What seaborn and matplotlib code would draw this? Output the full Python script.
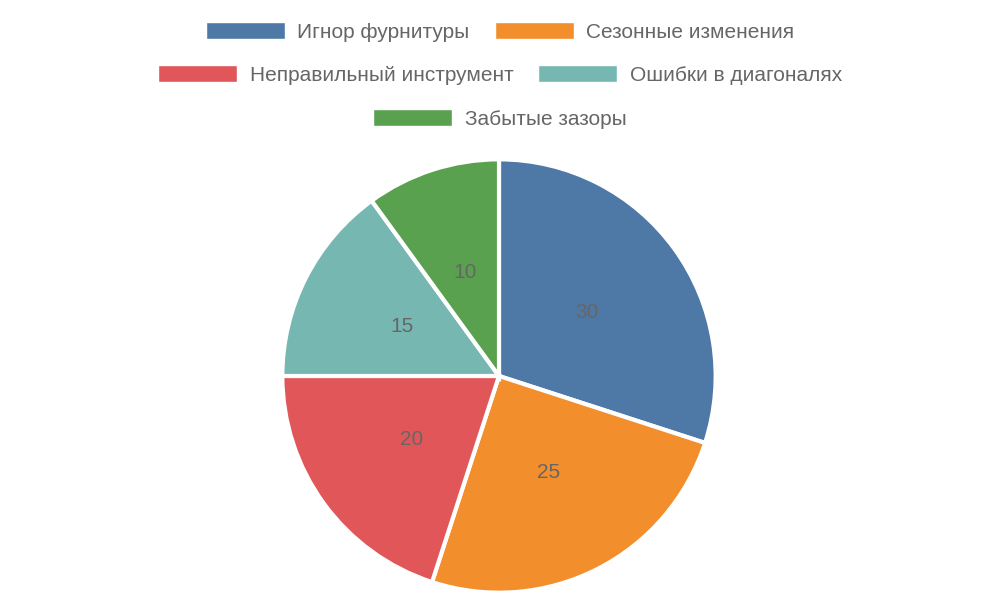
import matplotlib
matplotlib.use("Agg")
import matplotlib.pyplot as plt
import seaborn as sns
from matplotlib.patches import Patch

sns.set_theme(style="white")
plt.rcParams['font.family'] = ['Liberation Sans', 'DejaVu Sans']

categories = ["Игнор фурнитуры", "Сезонные изменения", "Неправильный инструмент",
              "Ошибки в диагоналях", "Забытые зазоры"]
values = [30, 25, 20, 15, 10]
colors = ["#4e79a7", "#f28e2b", "#e15759", "#76b7b2", "#59a14f"]

fig = plt.figure(figsize=(10, 6), dpi=100)
ax = fig.add_axes([(499 - 221) / 1000, (224 - 221) / 600, 442 / 1000, 442 / 600])
wedges, texts = ax.pie(values, colors=colors, startangle=90, counterclock=False,
                       labels=[str(v) for v in values], labeldistance=0.5,
                       wedgeprops=dict(edgecolor="white", linewidth=3))
for t in texts:
    t.set_color("#666666")
    t.set_fontsize(15)
    t.set_ha("center")
ax.set_xlim(-1.02, 1.02)
ax.set_ylim(-1.02, 1.02)
ax.set_aspect("equal")

rows = [[0, 1], [2, 3], [4]]
ys = [1 - 32 / 600, 1 - 75 / 600, 1 - 119 / 600]
for r, y in zip(rows, ys):
    handles = [Patch(facecolor=colors[i], label=categories[i]) for i in r]
    fig.legend(handles=handles, loc="center", bbox_to_anchor=(0.5, y), ncol=len(r),
               frameon=False, fontsize=15, labelcolor="#666666",
               handlelength=3.8, handleheight=0.9, handletextpad=0.6, columnspacing=1.2)

fig.savefig("out.png", dpi=100)
